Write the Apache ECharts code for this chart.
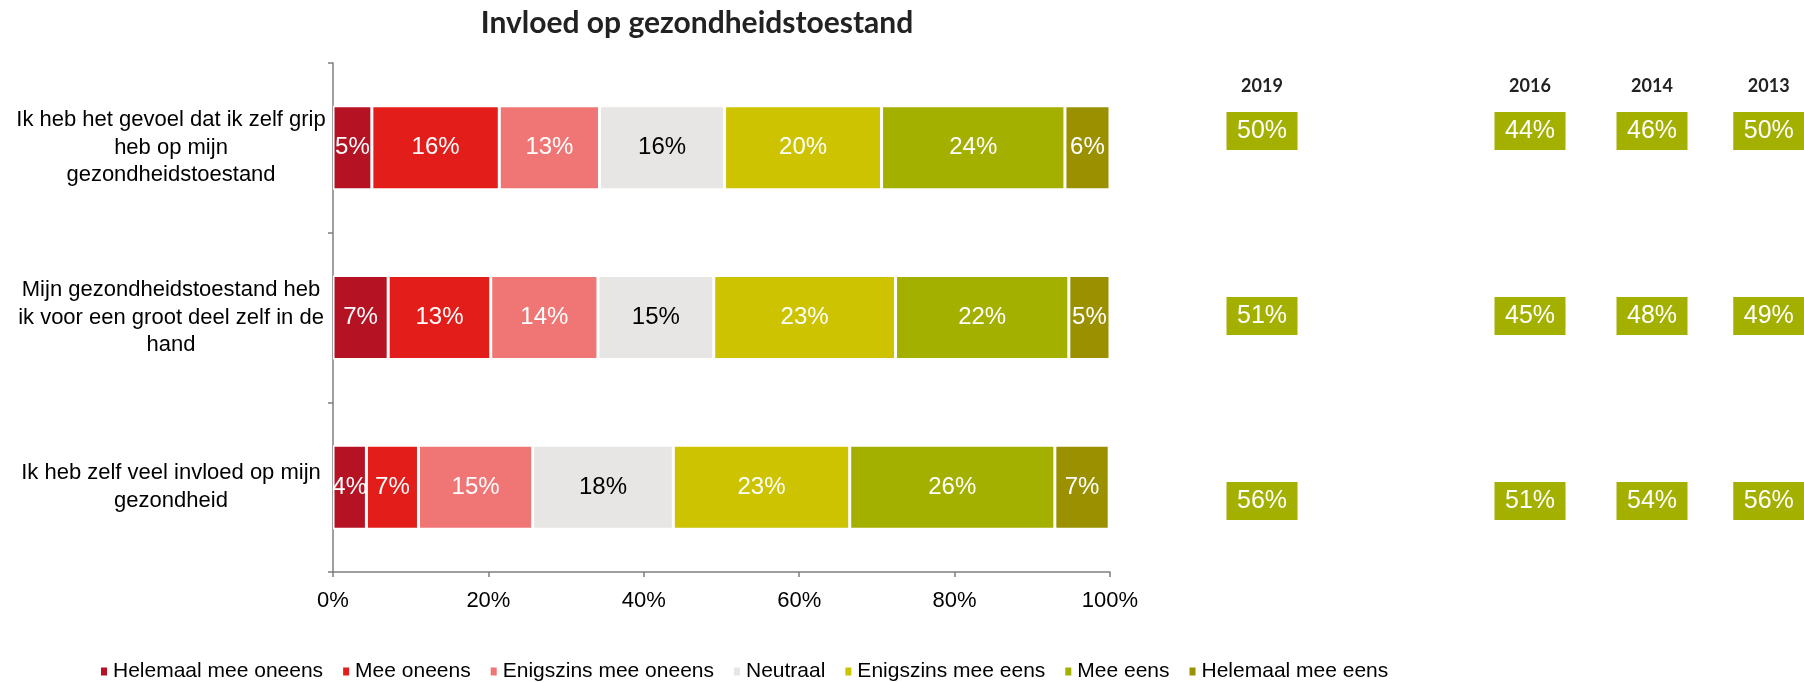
<!DOCTYPE html>
<html><head><meta charset="utf-8">
<script src="https://cdn.jsdelivr.net/npm/echarts@6/dist/echarts.min.js"></script>
<style>html,body{margin:0;padding:0;background:#fff}#c{width:1804px;height:682px}</style>
</head><body><div id="c"></div>
<script>
// ---- data ----
const questions = [
  'Ik heb het gevoel dat ik zelf grip\nheb op mijn\ngezondheidstoestand',
  'Mijn gezondheidstoestand heb\nik voor een groot deel zelf in de\nhand',
  'Ik heb zelf veel invloed op mijn\ngezondheid'
];
const seriesNames = ['Helemaal mee oneens','Mee oneens','Enigszins mee oneens','Neutraal','Enigszins mee eens','Mee eens','Helemaal mee eens'];
const helemaalMeeOneens = [5.0, 7.1, 4.3];
const meeOneens        = [16.4, 13.2, 6.7];
const enigszinsOneens  = [12.9, 13.8, 14.7];
const neutraal         = [16.1, 14.9, 18.1];
const enigszinsEens    = [20.2, 23.4, 22.7];
const meeEens          = [23.6, 22.3, 26.4];
const helemaalMeeEens  = [5.8, 5.3, 7.0];
const xTicks = ['0%','20%','40%','60%','80%','100%'];
const years = ['2019','2016','2014','2013'];
const eens2019 = [50, 51, 56];
const eens2016 = [44, 45, 51];
const eens2014 = [46, 48, 54];
const eens2013 = [50, 49, 56];

// ---- styling ----
const FONT = "'Liberation Sans', Arial, sans-serif";
const colors = ['#b51224','#e31e1a','#f07676','#e8e6e4','#cdc300','#a3b000','#9a9000'];
const labelColors = ['#fff','#fff','#fff','#000','#fff','#fff','#fff'];
const allSeries = [helemaalMeeOneens, meeOneens, enigszinsOneens, neutraal, enigszinsEens, meeEens, helemaalMeeEens];
const yearValues = [eens2019, eens2016, eens2014, eens2013];
const boxCenters = [1262, 1530, 1652, 1769];
const boxW = 71, boxH = 38;

const grids = [{left: 333, top: 63, width: 777, height: 509}];
const xAxes = [{
  gridIndex: 0, type: 'value', min: 0, max: 100, interval: 20,
  axisLine: {show: true, lineStyle: {color: '#7f7f7f', width: 1.5}},
  axisTick: {show: true, length: 5, lineStyle: {color: '#7f7f7f', width: 1.5}},
  splitLine: {show: false},
  axisLabel: {color: '#000', fontSize: 22, fontFamily: FONT, margin: 18,
    formatter: v => xTicks[v / 20]}
}];
const yAxes = [{
  gridIndex: 0, type: 'category', data: questions, inverse: true,
  axisLine: {show: true, lineStyle: {color: '#7f7f7f', width: 1.5}},
  axisTick: {show: true, length: 5, lineStyle: {color: '#7f7f7f', width: 1.5}},
  axisLabel: {color: '#000', fontSize: 22, fontFamily: FONT, lineHeight: 27.6,
    align: 'center', margin: 162, padding: [14, 0, 0, 0]}
}];
const series = seriesNames.map((name, i) => ({
  name, type: 'bar', stack: 'total', xAxisIndex: 0, yAxisIndex: 0,
  barWidth: '49.5%', data: allSeries[i],
  itemStyle: {color: colors[i], borderColor: '#fff', borderWidth: 1.5},
  label: {show: true, position: 'inside', color: labelColors[i], fontSize: 24,
    fontFamily: FONT, padding: [4, 0, 0, 0], formatter: p => Math.round(p.value) + '%'},
  emphasis: {disabled: true}
}));

years.forEach((yr, k) => {
  const gi = k + 1;
  grids.push({left: boxCenters[k] - boxW / 2, width: boxW, top: 38.5, height: 555});
  xAxes.push({gridIndex: gi, type: 'category', data: [yr], position: 'top', offset: -65,
    axisLine: {show: false}, axisTick: {show: false}, splitLine: {show: false},
    axisLabel: {color: '#222', fontSize: 18, fontWeight: 'bold', fontFamily: "Lato, 'Open Sans', sans-serif"}});
  yAxes.push({gridIndex: gi, type: 'category', data: questions, inverse: true, show: false});
  series.push({
    type: 'scatter', xAxisIndex: gi, yAxisIndex: gi, symbol: 'rect',
    symbolSize: [boxW, boxH], itemStyle: {color: '#a3b000', opacity: 1},
    data: questions.map((q, i) => [yr, q, yearValues[k][i]]),
    label: {show: true, position: 'inside', color: '#fff', fontSize: 25, fontFamily: FONT,
      formatter: p => p.value[2] + '%'},
    emphasis: {disabled: true}
  });
});

const chart = echarts.init(document.getElementById('c'), null, {renderer: 'canvas'});
chart.setOption({
  animation: false,
  backgroundColor: '#fff',
  title: {text: 'Invloed op gezondheidstoestand', left: 692, top: 3, textAlign: 'center',
    textStyle: {fontSize: 30, fontWeight: 'bold', color: '#222', fontFamily: "Lato, 'Open Sans', sans-serif"}},
  legend: {data: seriesNames, left: 94, top: 656, itemWidth: 8, itemHeight: 10, itemGap: 18,
    icon: 'rect', textStyle: {fontSize: 21, color: '#000', fontFamily: FONT}},
  grid: grids, xAxis: xAxes, yAxis: yAxes, series
});
</script></body></html>
